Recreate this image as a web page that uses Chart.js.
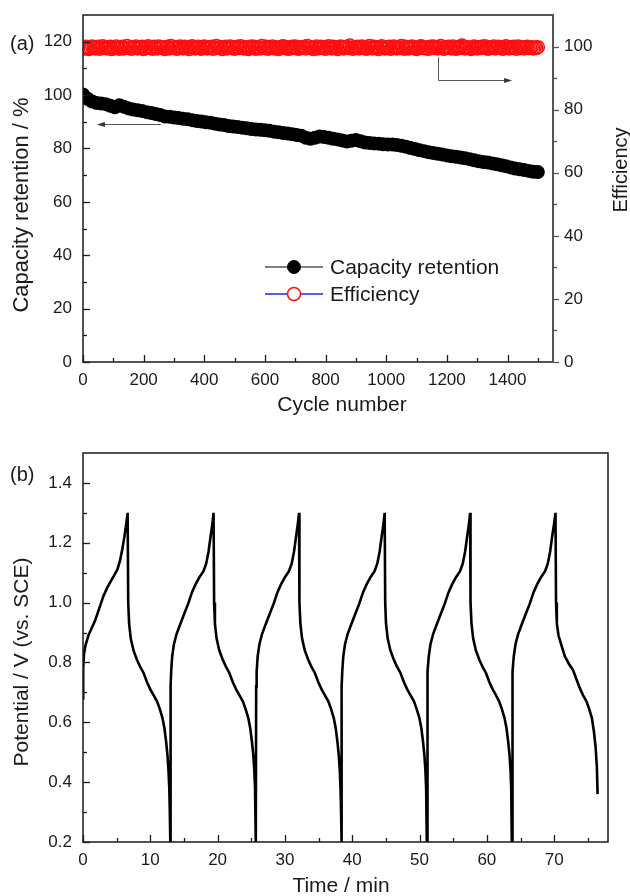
<!DOCTYPE html>
<html>
<head>
<meta charset="utf-8">
<script src="https://cdn.jsdelivr.net/npm/chart.js@4.4.1/dist/chart.umd.min.js"></script>
<style>
  html, body { margin: 0; padding: 0; background: #fff; }
  #wrap { position: relative; width: 630px; height: 896px; }
  canvas { position: absolute; left: 0; }
  #cycleChart { top: 0; }
  #timeChart { top: 430px; }
</style>
</head>
<body>
<div id="wrap">
  <canvas id="cycleChart" width="630" height="430"></canvas>
  <canvas id="timeChart" width="630" height="466"></canvas>
</div>
<script>
// (a) capacity retention, read every 15 cycles
const cycles = [
    0, 15, 30, 45, 60, 75, 90, 105, 120, 135,
    150, 165, 180, 195, 210, 225, 240, 255, 270, 285,
    300, 315, 330, 345, 360, 375, 390, 405, 420, 435,
    450, 465, 480, 495, 510, 525, 540, 555, 570, 585,
    600, 615, 630, 645, 660, 675, 690, 705, 720, 735,
    750, 765, 780, 795, 810, 825, 840, 855, 870, 885,
    900, 915, 930, 945, 960, 975, 990, 1005, 1020, 1035,
    1050, 1065, 1080, 1095, 1110, 1125, 1140, 1155, 1170, 1185,
    1200, 1215, 1230, 1245, 1260, 1275, 1290, 1305, 1320, 1335,
    1350, 1365, 1380, 1395, 1410, 1425, 1440, 1455, 1470, 1485,
    1500
];
const retention = [
    100.2, 98.6, 97.6, 97.0, 96.8, 96.6, 96.0, 95.4, 96.2, 95.6,
    95.0, 94.6, 94.3, 94.0, 93.6, 93.3, 92.9, 92.5, 92.0, 91.9,
    91.6, 91.4, 91.1, 90.9, 90.6, 90.3, 90.1, 89.8, 89.6, 89.3,
    89.0, 88.8, 88.4, 88.2, 88.0, 87.8, 87.6, 87.3, 87.1, 87.0,
    86.8, 86.6, 86.3, 86.1, 85.8, 85.6, 85.3, 85.0, 84.8, 84.0,
    83.6, 84.0, 84.5, 84.3, 84.0, 83.6, 83.4, 83.0, 82.6, 82.9,
    83.2, 82.7, 82.2, 82.0, 81.9, 81.8, 81.6, 81.5, 81.5, 81.3,
    81.0, 80.6, 80.2, 79.8, 79.3, 79.0, 78.6, 78.3, 78.0, 77.7,
    77.4, 77.1, 76.9, 76.6, 76.3, 76.0, 75.6, 75.2, 74.9, 74.7,
    74.4, 74.1, 73.7, 73.3, 72.9, 72.5, 72.2, 71.9, 71.6, 71.3,
    71.2
];

// (a) efficiency, read every 5 cycles
const effCycles = [
    0, 5, 10, 15, 20, 25, 30, 35, 40, 45, 50, 55, 60, 65, 70, 75, 80, 85, 90, 95,
    100, 105, 110, 115, 120, 125, 130, 135, 140, 145, 150, 155, 160, 165, 170, 175, 180, 185, 190, 195,
    200, 205, 210, 215, 220, 225, 230, 235, 240, 245, 250, 255, 260, 265, 270, 275, 280, 285, 290, 295,
    300, 305, 310, 315, 320, 325, 330, 335, 340, 345, 350, 355, 360, 365, 370, 375, 380, 385, 390, 395,
    400, 405, 410, 415, 420, 425, 430, 435, 440, 445, 450, 455, 460, 465, 470, 475, 480, 485, 490, 495,
    500, 505, 510, 515, 520, 525, 530, 535, 540, 545, 550, 555, 560, 565, 570, 575, 580, 585, 590, 595,
    600, 605, 610, 615, 620, 625, 630, 635, 640, 645, 650, 655, 660, 665, 670, 675, 680, 685, 690, 695,
    700, 705, 710, 715, 720, 725, 730, 735, 740, 745, 750, 755, 760, 765, 770, 775, 780, 785, 790, 795,
    800, 805, 810, 815, 820, 825, 830, 835, 840, 845, 850, 855, 860, 865, 870, 875, 880, 885, 890, 895,
    900, 905, 910, 915, 920, 925, 930, 935, 940, 945, 950, 955, 960, 965, 970, 975, 980, 985, 990, 995,
    1000, 1005, 1010, 1015, 1020, 1025, 1030, 1035, 1040, 1045, 1050, 1055, 1060, 1065, 1070, 1075, 1080, 1085, 1090, 1095,
    1100, 1105, 1110, 1115, 1120, 1125, 1130, 1135, 1140, 1145, 1150, 1155, 1160, 1165, 1170, 1175, 1180, 1185, 1190, 1195,
    1200, 1205, 1210, 1215, 1220, 1225, 1230, 1235, 1240, 1245, 1250, 1255, 1260, 1265, 1270, 1275, 1280, 1285, 1290, 1295,
    1300, 1305, 1310, 1315, 1320, 1325, 1330, 1335, 1340, 1345, 1350, 1355, 1360, 1365, 1370, 1375, 1380, 1385, 1390, 1395,
    1400, 1405, 1410, 1415, 1420, 1425, 1430, 1435, 1440, 1445, 1450, 1455, 1460, 1465, 1470, 1475, 1480, 1485, 1490, 1495,
    1500
];
const efficiency = [
    99.3, 99.7, 99.9, 99.5, 99.2, 99.6, 100.0, 99.8, 99.4, 99.6, 99.9, 99.3, 99.7, 100.1, 99.5, 99.8, 99.4, 99.6, 99.9, 99.2,
    99.7, 99.5, 100.0, 99.6, 99.3, 99.8, 99.9, 99.4, 99.6, 100.2, 99.5, 99.7, 99.3, 99.8, 99.6, 100.0, 99.4, 99.7, 99.5, 99.9,
    99.2, 99.6, 99.8, 100.1, 99.5, 99.7, 99.3, 99.9, 99.6, 99.4, 100.0, 99.7, 99.5, 99.8, 99.2, 99.6, 99.9, 99.4, 100.2, 99.6,
    99.5, 99.8, 99.3, 99.7, 100.0, 99.6, 99.4, 99.9, 99.5, 99.7, 99.2, 99.8, 100.1, 99.6, 99.4, 99.7, 99.9, 99.5, 99.3, 99.8,
    100.0, 99.6, 99.4, 99.8, 99.5, 99.9, 99.3, 99.7, 100.2, 99.6, 99.5, 99.8, 99.2, 99.7, 99.9, 99.4, 99.6, 100.0, 99.5, 99.8,
    99.3, 99.7, 99.9, 99.5, 100.1, 99.6, 99.4, 99.8, 99.7, 99.2, 99.6, 100.0, 99.5, 99.9, 99.3, 99.7, 99.8, 99.4, 100.2, 99.6,
    99.5, 99.9, 99.3, 99.7, 99.6, 100.0, 99.4, 99.8, 99.5, 99.2, 99.7, 99.9, 100.1, 99.6, 99.4, 99.8, 99.3, 99.7, 99.9, 99.5,
    100.0, 99.6, 99.3, 99.8, 99.5, 99.7, 99.9, 99.4, 100.2, 99.6, 99.5, 99.8, 99.2, 99.7, 100.0, 99.4, 99.6, 99.9, 99.5, 99.7,
    99.3, 99.8, 100.1, 99.6, 99.4, 99.9, 99.5, 99.7, 99.2, 99.8, 100.0, 99.6, 99.4, 99.7, 99.9, 99.5, 100.3, 99.6, 99.3, 99.8,
    99.6, 99.9, 99.4, 99.7, 100.0, 99.5, 99.8, 99.3, 99.6, 100.2, 99.7, 99.4, 99.9, 99.5, 99.8, 99.2, 99.7, 100.1, 99.6, 99.4,
    99.8, 99.5, 99.9, 99.3, 99.7, 100.0, 99.6, 99.4, 99.8, 99.5, 100.2, 99.7, 99.3, 99.9, 99.6, 99.4, 99.8, 100.0, 99.5, 99.7,
    99.2, 99.6, 99.9, 100.1, 99.5, 99.8, 99.4, 99.7, 99.3, 99.9, 99.6, 100.0, 99.5, 99.8, 99.4, 99.7, 100.2, 99.6, 99.3, 99.8,
    99.5, 99.9, 99.7, 99.4, 100.0, 99.6, 99.3, 99.8, 99.5, 99.9, 100.3, 99.7, 99.4, 99.6, 99.8, 99.5, 99.2, 99.7, 100.0, 99.6,
    99.4, 99.8, 99.5, 99.9, 99.7, 100.1, 99.6, 99.3, 99.8, 99.5, 99.7, 100.0, 99.4, 99.6, 99.9, 99.5, 99.8, 99.3, 99.7, 100.1,
    99.6, 99.4, 99.8, 99.5, 99.9, 99.7, 99.3, 100.0, 99.6, 99.5, 99.8, 99.4, 99.7, 99.9, 99.5, 99.6, 99.8, 99.4, 99.7, 99.5,
    99.8
];

const cycleTicks = [0, 200, 400, 600, 800, 1000, 1200, 1400];
const cycleMinor = [100, 300, 500, 700, 900, 1100, 1300, 1500];
const retentionTicks = [0, 20, 40, 60, 80, 100, 120];
const retentionMinor = [10, 30, 50, 70, 90, 110];
const efficiencyTicks = [0, 20, 40, 60, 80, 100];
const efficiencyMinor = [10, 30, 50, 70, 90];

// arrows: [from cycle, to cycle, level] ; right arrow: [cycle, from eff, to eff, to cycle]
const arrowToLeft = [257, 46, 89];
const arrowToRight = [1171, 96.6, 89.4, 1415];

// (b) charge/discharge curve
const timeMin = [
    0, 0.03, 0.15, 0.4, 0.8, 1.2, 1.8, 2.4, 3.0, 3.6, 4.1, 4.6, 5.1, 5.5, 5.85, 6.15, 6.4, 6.63,
    6.66, 6.72, 6.85, 7.1, 7.5, 8.0, 8.5, 9.0, 9.5, 10.0, 10.5, 11.0, 11.4, 11.8, 12.1, 12.35, 12.55, 12.7, 12.82, 12.9, 12.97,
    13.0, 13.03, 13.1, 13.25, 13.5, 13.9, 14.4, 15.0, 15.6, 16.2, 16.7, 17.3, 17.9, 18.3, 18.65, 18.95, 19.2, 19.4,
    19.43, 19.48, 19.6, 19.85, 20.25, 20.75, 21.25, 21.75, 22.25, 22.75, 23.25, 23.75, 24.15, 24.55, 24.85, 25.1, 25.3, 25.45, 25.56, 25.63, 25.68,
    25.7, 25.73, 25.8, 25.95, 26.2, 26.6, 27.1, 27.7, 28.3, 28.9, 29.4, 30.0, 30.6, 31.0, 31.35, 31.65, 31.9, 32.1,
    32.13, 32.18, 32.3, 32.55, 32.95, 33.45, 33.95, 34.45, 34.95, 35.45, 35.95, 36.45, 36.85, 37.25, 37.55, 37.8, 38.0, 38.15, 38.26, 38.34, 38.4,
    38.42, 38.45, 38.52, 38.67, 38.92, 39.32, 39.82, 40.42, 41.02, 41.62, 42.12, 42.72, 43.32, 43.72, 44.07, 44.37, 44.62, 44.82,
    44.85, 44.9, 45.02, 45.27, 45.67, 46.17, 46.67, 47.17, 47.67, 48.17, 48.67, 49.17, 49.57, 49.97, 50.27, 50.52, 50.72, 50.87, 50.98, 51.05, 51.1,
    51.12, 51.15, 51.22, 51.37, 51.62, 52.02, 52.52, 53.12, 53.72, 54.32, 54.82, 55.42, 56.02, 56.42, 56.77, 57.07, 57.32, 57.52,
    57.55, 57.6, 57.72, 57.97, 58.37, 58.87, 59.37, 59.87, 60.37, 60.87, 61.37, 61.82, 62.22, 62.62, 62.92, 63.17, 63.37, 63.52, 63.62, 63.68, 63.73,
    63.75, 63.78, 63.85, 64.0, 64.25, 64.65, 65.15, 65.75, 66.35, 66.95, 67.45, 68.05, 68.65, 69.05, 69.4, 69.7, 69.97, 70.2,
    70.23, 70.28, 70.4, 70.65, 71.05, 71.6, 72.2, 72.8, 73.3, 73.8, 74.3, 74.8, 75.2, 75.6, 75.9, 76.15, 76.35, 76.45
];
const potentialV = [
    0.68, 0.78, 0.83, 0.86, 0.89, 0.91, 0.94, 0.98, 1.02, 1.05, 1.07, 1.09, 1.11, 1.14, 1.18, 1.22, 1.26, 1.30,
    1.30, 1.00, 0.93, 0.88, 0.84, 0.81, 0.785, 0.765, 0.735, 0.71, 0.69, 0.67, 0.645, 0.615, 0.58, 0.535, 0.49, 0.44, 0.38, 0.30, 0.20,
    0.20, 0.72, 0.77, 0.82, 0.86, 0.895, 0.925, 0.96, 0.995, 1.035, 1.06, 1.085, 1.105, 1.13, 1.17, 1.22, 1.26, 1.30,
    1.30, 1.00, 0.93, 0.88, 0.84, 0.81, 0.785, 0.765, 0.735, 0.71, 0.69, 0.67, 0.645, 0.615, 0.58, 0.535, 0.49, 0.44, 0.38, 0.30, 0.20,
    0.20, 0.72, 0.77, 0.82, 0.86, 0.895, 0.925, 0.96, 0.995, 1.035, 1.06, 1.085, 1.105, 1.13, 1.17, 1.22, 1.26, 1.30,
    1.30, 1.00, 0.93, 0.88, 0.84, 0.81, 0.785, 0.765, 0.735, 0.71, 0.69, 0.67, 0.645, 0.615, 0.58, 0.535, 0.49, 0.44, 0.38, 0.30, 0.20,
    0.20, 0.72, 0.77, 0.82, 0.86, 0.895, 0.925, 0.96, 0.995, 1.035, 1.06, 1.085, 1.105, 1.13, 1.17, 1.22, 1.26, 1.30,
    1.30, 1.00, 0.93, 0.88, 0.84, 0.81, 0.785, 0.765, 0.735, 0.71, 0.69, 0.67, 0.645, 0.615, 0.58, 0.535, 0.49, 0.44, 0.38, 0.30, 0.20,
    0.20, 0.72, 0.77, 0.82, 0.86, 0.895, 0.925, 0.96, 0.995, 1.035, 1.06, 1.085, 1.105, 1.13, 1.17, 1.22, 1.26, 1.30,
    1.30, 1.00, 0.93, 0.88, 0.84, 0.81, 0.785, 0.765, 0.735, 0.71, 0.69, 0.67, 0.645, 0.615, 0.58, 0.535, 0.49, 0.44, 0.38, 0.30, 0.20,
    0.20, 0.72, 0.77, 0.82, 0.86, 0.895, 0.925, 0.96, 0.995, 1.035, 1.06, 1.085, 1.105, 1.13, 1.17, 1.22, 1.26, 1.30,
    1.30, 1.00, 0.93, 0.89, 0.86, 0.82, 0.795, 0.775, 0.745, 0.715, 0.69, 0.67, 0.645, 0.615, 0.57, 0.52, 0.45, 0.36
];

const timeTicks = [0, 10, 20, 30, 40, 50, 60, 70];
const timeMinor = [5, 15, 25, 35, 45, 55, 65, 75];
const potentialTicks = [0.2, 0.4, 0.6, 0.8, 1.0, 1.2, 1.4];
const potentialMinor = [0.3, 0.5, 0.7, 0.9, 1.1, 1.3];

const FONT = '"Liberation Sans", Arial, Helvetica, sans-serif';
const INK = '#1a1a1a';

// frame box + tick marks drawn from the scales
const axisTicks = {
    id: 'axisTicks',
    afterDraw(chart, args, opts) {
        const {ctx, chartArea: a} = chart;
        ctx.save();
        ctx.strokeStyle = INK;
        ctx.lineWidth = 1.5;
        ctx.strokeRect(a.left, a.top, a.right - a.left, a.bottom - a.top);
        if (opts.rightSpine) {
            ctx.strokeStyle = opts.rightSpine;
            ctx.lineWidth = 2;
            ctx.beginPath();
            ctx.moveTo(a.right, a.top - 1);
            ctx.lineTo(a.right, a.bottom + 1);
            ctx.stroke();
        }
        opts.marks.forEach(m => {
            const s = chart.scales[m.axis];
            ctx.strokeStyle = m.color || INK;
            ctx.lineWidth = 1.3;
            m.values.forEach(v => {
                const p = Math.round(s.getPixelForValue(v)) + 0.5;
                ctx.beginPath();
                if (m.side === 'bottom') {
                    ctx.moveTo(p, a.bottom);
                    ctx.lineTo(p, a.bottom - m.len);
                } else if (m.side === 'left') {
                    ctx.moveTo(a.left, p);
                    ctx.lineTo(a.left + m.len, p);
                } else {
                    ctx.moveTo(a.right, p);
                    ctx.lineTo(a.right + m.len, p);
                }
                ctx.stroke();
            });
        });
        ctx.restore();
    }
};

// panel labels and axis titles
const panelText = {
    id: 'panelText',
    afterDraw(chart, args, opts) {
        const {ctx} = chart;
        opts.items.forEach(t => {
            ctx.save();
            ctx.font = t.font;
            ctx.fillStyle = INK;
            ctx.textAlign = t.align || 'left';
            ctx.textBaseline = 'middle';
            ctx.translate(t.x, t.y);
            if (t.rotate) ctx.rotate(t.rotate);
            ctx.fillText(t.text, 0, 0);
            ctx.restore();
        });
    }
};

const legendBox = {
    id: 'legendBox',
    afterDraw(chart, args, opts) {
        const {ctx, chartArea: a} = chart;
        ctx.save();
        chart.data.datasets.forEach((ds, i) => {
            const y = a.top + opts.top + i * opts.rowGap;
            const x0 = a.left + opts.left;
            ctx.strokeStyle = opts.lineColors[i];
            ctx.lineWidth = 1.3;
            ctx.beginPath();
            ctx.moveTo(x0, y);
            ctx.lineTo(x0 + opts.lineLength, y);
            ctx.stroke();
            ctx.beginPath();
            ctx.arc(x0 + opts.lineLength / 2, y, opts.markerRadius, 0, Math.PI * 2);
            ctx.fillStyle = i === 0 ? '#000' : '#fff';
            ctx.fill();
            ctx.lineWidth = ds.pointBorderWidth || 1;
            ctx.strokeStyle = ds.pointBorderColor;
            ctx.stroke();
            ctx.font = '21px ' + FONT;
            ctx.fillStyle = INK;
            ctx.textBaseline = 'middle';
            ctx.fillText(ds.label, x0 + opts.lineLength + 7, y + 1);
        });
        ctx.restore();
    }
};

function arrowHead(ctx, x, y, dir) {
    ctx.beginPath();
    ctx.moveTo(x, y);
    ctx.lineTo(x - dir * 8, y - 2.5);
    ctx.lineTo(x - dir * 8, y + 2.5);
    ctx.closePath();
    ctx.fill();
}

const arrows = {
    id: 'arrows',
    afterDraw(chart) {
        const {ctx} = chart;
        const {x, y, y2} = chart.scales;
        ctx.save();
        ctx.strokeStyle = '#555';
        ctx.fillStyle = '#333';
        ctx.lineWidth = 1;
        const ly = Math.round(y.getPixelForValue(arrowToLeft[2])) + 0.5;
        ctx.beginPath();
        ctx.moveTo(x.getPixelForValue(arrowToLeft[0]), ly);
        ctx.lineTo(x.getPixelForValue(arrowToLeft[1]) + 4, ly);
        ctx.stroke();
        arrowHead(ctx, x.getPixelForValue(arrowToLeft[1]), ly, -1);
        const rx = Math.round(x.getPixelForValue(arrowToRight[0])) + 0.5;
        const ry = Math.round(y2.getPixelForValue(arrowToRight[2])) + 0.5;
        ctx.beginPath();
        ctx.moveTo(rx, y2.getPixelForValue(arrowToRight[1]));
        ctx.lineTo(rx, ry);
        ctx.lineTo(x.getPixelForValue(arrowToRight[3]) - 4, ry);
        ctx.stroke();
        arrowHead(ctx, x.getPixelForValue(arrowToRight[3]), ry, 1);
        ctx.restore();
    }
};

const tickFont = {family: FONT, size: 17};
const noGrid = {display: false, drawTicks: false};
// fixed axis boxes; drop the label overhang padding so the plot keeps its size
const fitWidth = w => s => { s.width = w; s.paddingTop = 0; s.paddingBottom = 0; };
const fitHeight = h => s => { s.height = h; s.paddingLeft = 0; s.paddingRight = 0; };

new Chart(document.getElementById('cycleChart'), {
    type: 'scatter',
    data: {
        datasets: [
            {
                label: 'Capacity retention',
                data: cycles.map((c, i) => ({x: c, y: retention[i]})),
                yAxisID: 'y',
                pointRadius: 7,
                pointBackgroundColor: '#000',
                pointBorderColor: '#000',
                pointBorderWidth: 0
            },
            {
                label: 'Efficiency',
                data: effCycles.map((c, i) => ({x: c, y: efficiency[i]})),
                yAxisID: 'y2',
                pointRadius: 6.5,
                pointBackgroundColor: 'rgba(255,255,255,0)',
                pointBorderColor: '#ff1010',
                pointBorderWidth: 1.5
            }
        ]
    },
    options: {
        responsive: false,
        animation: false,
        devicePixelRatio: 1,
        layout: {padding: {top: 15, left: 0, right: 0, bottom: 0}},
        plugins: {
            legend: {display: false},
            tooltip: {enabled: false},
            axisTicks: {
                rightSpine: '#555',
                marks: [
                    {axis: 'x', side: 'bottom', values: cycleTicks, len: 7},
                    {axis: 'x', side: 'bottom', values: cycleMinor, len: 4},
                    {axis: 'y', side: 'left', values: retentionTicks, len: 7},
                    {axis: 'y', side: 'left', values: retentionMinor, len: 4},
                    {axis: 'y2', side: 'right', values: efficiencyTicks, len: 6, color: '#555'},
                    {axis: 'y2', side: 'right', values: efficiencyMinor, len: 4, color: '#555'}
                ]
            },
            legendBox: {left: 182, top: 252, rowGap: 27, lineLength: 58, markerRadius: 6.5, lineColors: ['#555', '#2020ff']},
            panelText: {
                items: [
                    {text: '(a)', x: 10, y: 44, font: '20px ' + FONT},
                    {text: 'Capacity retention / %', x: 22, y: 205, font: '22px ' + FONT, align: 'center', rotate: -Math.PI / 2},
                    {text: 'Cycle number', x: 342, y: 405, font: '21px ' + FONT, align: 'center'},
                    {text: 'Efficiency', x: 621, y: 170, font: '20px ' + FONT, align: 'center', rotate: -Math.PI / 2}
                ]
            }
        },
        scales: {
            x: {
                type: 'linear',
                min: 0,
                max: 1550,
                grid: noGrid,
                border: {display: false},
                afterBuildTicks: s => { s.ticks = cycleTicks.map(v => ({value: v})); },
                afterFit: fitHeight(68),
                ticks: {font: tickFont, color: INK, padding: 8, maxRotation: 0, callback: v => String(v)}
            },
            y: {
                position: 'left',
                min: 0,
                max: 130,
                grid: noGrid,
                border: {display: false},
                afterBuildTicks: s => { s.ticks = retentionTicks.map(v => ({value: v})); },
                afterFit: fitWidth(83),
                ticks: {font: tickFont, color: INK, padding: 11, callback: v => String(v)}
            },
            y2: {
                position: 'right',
                min: 0,
                max: 110,
                grid: noGrid,
                border: {display: false},
                afterBuildTicks: s => { s.ticks = efficiencyTicks.map(v => ({value: v})); },
                afterFit: fitWidth(77),
                ticks: {font: tickFont, color: INK, padding: 11, callback: v => String(v)}
            }
        }
    },
    plugins: [axisTicks, arrows, legendBox, panelText]
});

new Chart(document.getElementById('timeChart'), {
    type: 'line',
    data: {
        datasets: [{
            label: 'Potential',
            data: timeMin.map((t, i) => ({x: t, y: potentialV[i]})),
            borderColor: '#000',
            borderWidth: 2.6,
            pointRadius: 0,
            tension: 0,
            fill: false
        }]
    },
    options: {
        responsive: false,
        animation: false,
        devicePixelRatio: 1,
        layout: {padding: {top: 23, left: 0, right: 22, bottom: 0}},
        plugins: {
            legend: {display: false},
            tooltip: {enabled: false},
            axisTicks: {
                marks: [
                    {axis: 'x', side: 'bottom', values: timeTicks, len: 7},
                    {axis: 'x', side: 'bottom', values: timeMinor, len: 4},
                    {axis: 'y', side: 'left', values: potentialTicks, len: 7},
                    {axis: 'y', side: 'left', values: potentialMinor, len: 4}
                ]
            },
            panelText: {
                items: [
                    {text: '(b)', x: 10, y: 45, font: '20px ' + FONT},
                    {text: 'Potential / V (vs. SCE)', x: 22, y: 232, font: '21px ' + FONT, align: 'center', rotate: -Math.PI / 2},
                    {text: 'Time / min', x: 341, y: 456, font: '21px ' + FONT, align: 'center'}
                ]
            }
        },
        scales: {
            x: {
                type: 'linear',
                min: 0,
                max: 78,
                grid: noGrid,
                border: {display: false},
                afterBuildTicks: s => { s.ticks = timeTicks.map(v => ({value: v})); },
                afterFit: fitHeight(54),
                ticks: {font: tickFont, color: INK, padding: 8, maxRotation: 0, callback: v => String(v)}
            },
            y: {
                min: 0.2,
                max: 1.5,
                grid: noGrid,
                border: {display: false},
                afterBuildTicks: s => { s.ticks = potentialTicks.map(v => ({value: v})); },
                afterFit: fitWidth(83),
                ticks: {font: tickFont, color: INK, padding: 11, callback: v => v.toFixed(1)}
            }
        }
    },
    plugins: [axisTicks, panelText]
});
</script>
</body>
</html>
